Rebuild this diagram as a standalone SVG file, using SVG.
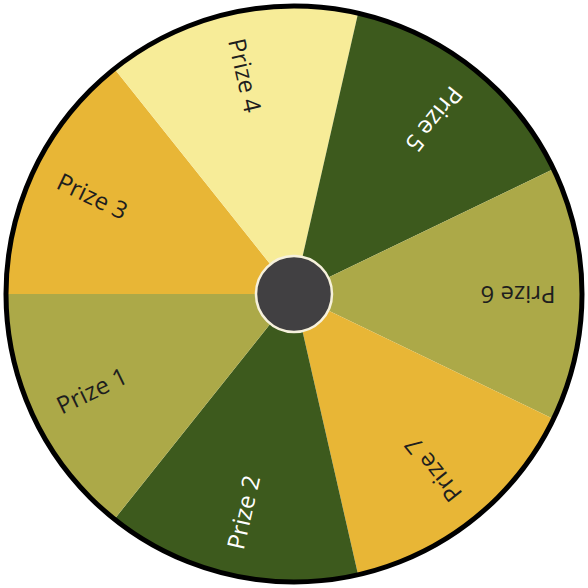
<svg xmlns="http://www.w3.org/2000/svg" width="588" height="588" viewBox="0 0 588 588">
<style>
.gold{fill:#E8B636}
.pale{fill:#F7EC98}
.dark{fill:#3D5A1D}
.olive{fill:#ACA948}
.lbl{font-family:"Open Sans","Noto Sans",sans-serif;font-size:24px;text-anchor:middle}
.lblD{fill:#1e1e1e}
.lblW{fill:#ffffff}
</style>
<rect width="588" height="588" fill="#ffffff"/>
<g id="prize3">
<path class="gold" d="M294,294 L6,294 A288,288 0 0 1 114.43,68.83 Z"/>
<text class="lbl lblD" x="518" y="302" transform="rotate(-154.29 294 294) rotate(180 518 294)">Prize 3</text>
</g>
<g id="prize4">
<path class="pale" d="M294,294 L114.43,68.83 A288,288 0 0 1 358.09,13.22 Z"/>
<text class="lbl lblD" x="518" y="302" transform="rotate(-102.86 294 294) rotate(180 518 294)">Prize 4</text>
</g>
<g id="prize5">
<path class="dark" d="M294,294 L358.09,13.22 A288,288 0 0 1 553.48,169.04 Z"/>
<text class="lbl lblW" x="518" y="302" transform="rotate(-51.43 294 294) rotate(180 518 294)">Prize 5</text>
</g>
<g id="prize6">
<path class="olive" d="M294,294 L553.48,169.04 A288,288 0 0 1 553.48,418.96 Z"/>
<text class="lbl lblD" x="518" y="302" transform="rotate(0 294 294) rotate(180 518 294)">Prize 6</text>
</g>
<g id="prize7">
<path class="gold" d="M294,294 L553.48,418.96 A288,288 0 0 1 358.09,574.78 Z"/>
<text class="lbl lblD" x="518" y="302" transform="rotate(51.43 294 294) rotate(180 518 294)">Prize 7</text>
</g>
<g id="prize2">
<path class="dark" d="M294,294 L358.09,574.78 A288,288 0 0 1 114.43,519.17 Z"/>
<text class="lbl lblW" x="518" y="302" transform="rotate(102.86 294 294) rotate(180 518 294)">Prize 2</text>
</g>
<g id="prize1">
<path class="olive" d="M294,294 L114.43,519.17 A288,288 0 0 1 6,294 Z"/>
<text class="lbl lblD" x="518" y="302" transform="rotate(154.29 294 294) rotate(180 518 294)">Prize 1</text>
</g>
<g id="rim">
<circle cx="294" cy="294" r="288" fill="none" stroke="#000000" stroke-width="5"/>
</g>
<g id="hub">
<circle cx="294" cy="294" r="38" fill="#414042" stroke="#F6F1DC" stroke-width="2.5"/>
</g>
</svg>
